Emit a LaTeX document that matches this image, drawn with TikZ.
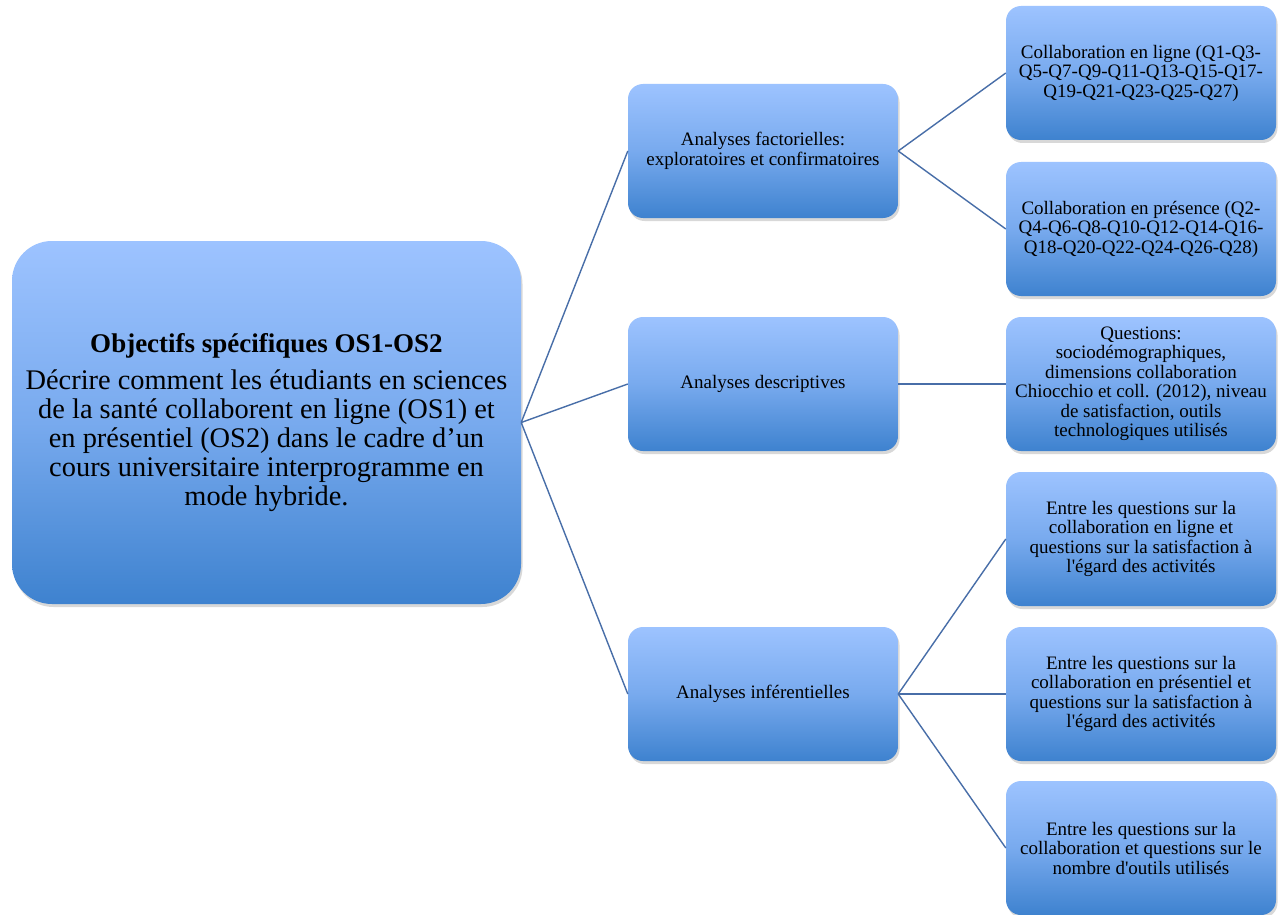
\documentclass[tikz,border=0pt]{standalone}
\usepackage{fontspec}
\setmainfont{Liberation Serif}
\usetikzlibrary{shadows}
\definecolor{topblue}{RGB}{157,195,255}
\definecolor{midblue}{RGB}{120,170,238}
\definecolor{botblue}{RGB}{62,130,207}
\definecolor{linkblue}{RGB}{72,110,168}
\begin{document}
\begin{tikzpicture}[x=1pt,y=-1pt,
  box/.style={rounded corners=15pt, top color=topblue, bottom color=botblue, middle color=midblue,
    minimum width=270pt, minimum height=134pt, align=center, inner sep=2pt,
    font=\fontsize{19}{19.5}\selectfont, text=black,
    drop shadow={opacity=0.3, shadow xshift=1.5pt, shadow yshift=-3pt}},
  bigbox/.style={box, rounded corners=40pt, minimum width=509pt, minimum height=363pt,
    font=\fontsize{28.4}{29}\selectfont},
  link/.style={draw=linkblue, line width=1.4pt}]
\useasboundingbox (0,0) rectangle (1285,915);
\fill[white] (0,0) rectangle (1285,915);
% main
\node[bigbox] (main) at (266.5,422.5) {{\fontsize{27}{29}\selectfont\bfseries Objectifs spécifiques OS1-OS2}\\[8pt]
Décrire comment les étudiants en sciences\\de la santé collaborent en ligne (OS1) et\\en présentiel (OS2) dans le cadre d’un\\cours universitaire interprogramme en\\mode hybride.};
% middle column
\node[box] (fa) at (763,151) {Analyses factorielles:\\exploratoires et confirmatoires};
\node[box] (de) at (763,384) {Analyses descriptives};
\node[box] (in) at (763,694) {Analyses inférentielles};
% right column
\node[box] (r1) at (1141,73) {Collaboration en ligne (Q1-Q3-\\Q5-Q7-Q9-Q11-Q13-Q15-Q17-\\Q19-Q21-Q23-Q25-Q27)};
\node[box] (r2) at (1141,229) {Collaboration en présence (Q2-\\Q4-Q6-Q8-Q10-Q12-Q14-Q16-\\Q18-Q20-Q22-Q24-Q26-Q28)};
\node[box] (r3) at (1141,384) {Questions:\\sociodémographiques,\\dimensions collaboration\\Chiocchio et coll. (2012), niveau\\de satisfaction, outils\\technologiques utilisés};
\node[box] (r4) at (1141,539) {Entre les questions sur la\\collaboration en ligne et\\questions sur la satisfaction à\\l\textquotesingle égard des activités};
\node[box] (r5) at (1141,694) {Entre les questions sur la\\collaboration en présentiel et\\questions sur la satisfaction à\\l\textquotesingle égard des activités};
\node[box] (r6) at (1141,848) {Entre les questions sur la\\collaboration et questions sur le\\nombre d\textquotesingle outils utilisés};
% connectors
\draw[link] (main.east) -- (fa.west);
\draw[link] (main.east) -- (de.west);
\draw[link] (main.east) -- (in.west);
\draw[link] (fa.east) -- (r1.west);
\draw[link] (fa.east) -- (r2.west);
\draw[link] (de.east) -- (r3.west);
\draw[link] (in.east) -- (r4.west);
\draw[link] (in.east) -- (r5.west);
\draw[link] (in.east) -- (r6.west);
\end{tikzpicture}
\end{document}
